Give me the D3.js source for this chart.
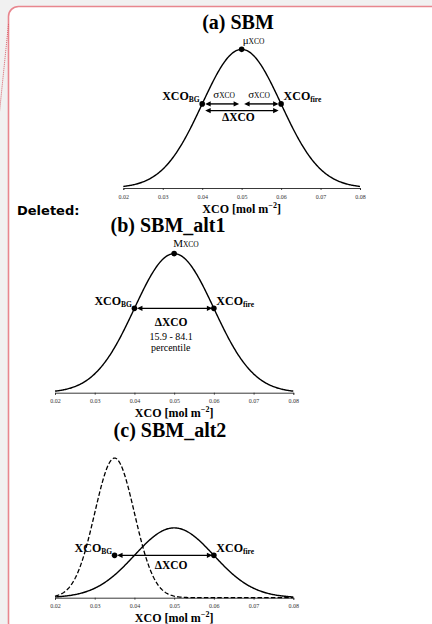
<!DOCTYPE html>
<html>
<head>
<meta charset="utf-8">
<script src="https://cdn.jsdelivr.net/npm/d3@7"></script>
<style>
  html, body { margin: 0; padding: 0; background: #f1f1f1; overflow: hidden; }
  svg { display: block; }
  text { font-family: "Liberation Serif", "Times New Roman", serif; }
</style>
</head>
<body>
<svg id="chart" width="432" height="624"></svg>
<script>
// ---- data ----
const xTicks = [0.02, 0.03, 0.04, 0.05, 0.06, 0.07, 0.08];
const xDomain = [0.02, 0.08];
const panelTitles = ["(a) SBM", "(b) SBM_alt1", "(c) SBM_alt2"];
// fire-affected XCO distribution (solid curve)
const fireMean = [0.05, 0.05, 0.05];
const fireSd = [0.01, 0.01, 0.01];
// background XCO distribution (dashed curve, panel c only)
const bgMean = [null, null, 0.035];
const bgSd = [null, null, 0.005];
// marked values
const bgValue = [0.04, 0.04, 0.035];
const fireValue = [0.06, 0.06, 0.06];
const centreValue = [0.05, 0.05, null];
const densityTop = [40, 40, 80];

// ---- layout ----
const panels = [
  { x0: 123.3, x1: 360.0, axisY: 188.0, h: 139.0, titleX: 238, titleY: 29 },
  { x0: 55.0,  x1: 293.3, axisY: 392.7, h: 139.4, titleX: 168, titleY: 232 },
  { x0: 55.0,  x1: 293.3, axisY: 597.7, h: 140.0, titleX: 170, titleY: 437 }
];

const svg = d3.select("#chart");

// comment balloon frame
svg.append("rect")
  .attr("x", 8.5).attr("y", 6.5).attr("width", 520).attr("height", 626).attr("rx", 10)
  .attr("fill", "#ffffff").attr("stroke", "#e8868e").attr("stroke-width", 1.6);
svg.append("line")
  .attr("x1", 8.5).attr("y1", 24).attr("x2", -0.5).attr("y2", 112)
  .attr("stroke", "#d9606a").attr("stroke-width", 1).attr("stroke-dasharray", "1,1");

svg.append("text")
  .attr("x", 17).attr("y", 215)
  .style("font-family", "'DejaVu Sans', Verdana, sans-serif")
  .style("font-weight", "bold").style("font-size", "13px")
  .text("Deleted:");

const pdf = (x, m, s) => Math.exp(-0.5 * ((x - m) / s) ** 2) / (s * Math.sqrt(2 * Math.PI));
const grid = d3.range(xDomain[0], xDomain[1] + 1e-9, 0.0002);

function head(g, x, y, dir) {
  g.append("path")
    .attr("d", `M${x},${y}L${x - dir * 5.5},${y - 2.6}L${x - dir * 5.5},${y + 2.6}Z`)
    .attr("fill", "#000");
}
function dblArrow(g, xa, xb, y) {
  g.append("line").attr("x1", xa + 2).attr("x2", xb - 2).attr("y1", y).attr("y2", y)
    .attr("stroke", "#000").attr("stroke-width", 1.4);
  head(g, xa, y, -1);
  head(g, xb, y, 1);
}
function subLabel(g, x, y, main, sub, anchor, bold, mainSize, subSize, dy) {
  const t = g.append("text").attr("x", x).attr("y", y).attr("text-anchor", anchor)
    .style("font-weight", bold ? "bold" : "normal").style("font-size", mainSize + "px");
  t.append("tspan").text(main);
  t.append("tspan").attr("dy", dy).style("font-size", subSize + "px").text(sub);
  return t;
}

panels.forEach((p, i) => {
  const g = svg.append("g");
  const x = d3.scaleLinear().domain(xDomain).range([p.x0, p.x1]);
  const y = d3.scaleLinear().domain([0, densityTop[i]]).range([p.axisY, p.axisY - p.h]);

  // title
  g.append("text").attr("x", p.titleX).attr("y", p.titleY).attr("text-anchor", "middle")
    .style("font-weight", "bold").style("font-size", "20px").text(panelTitles[i]);

  // axis
  const ax = g.append("g").attr("transform", `translate(0,${p.axisY})`)
    .call(d3.axisBottom(x).tickValues(xTicks).tickFormat(d3.format(".2f"))
      .tickSize(2).tickSizeOuter(2).tickPadding(4.5));
  ax.select(".domain").attr("stroke", "#222").attr("stroke-width", 0.9);
  ax.selectAll(".tick line").attr("stroke", "#222").attr("stroke-width", 0.8);
  ax.selectAll(".tick text").style("font-family", "'Liberation Serif', serif")
    .style("font-size", "6px").attr("fill", "#333");

  const at = g.append("text").attr("x", (p.x0 + p.x1) / 2).attr("y", p.axisY + 24.5)
    .attr("text-anchor", "middle").style("font-weight", "bold").style("font-size", "12px");
  at.append("tspan").text("XCO [mol m");
  at.append("tspan").attr("dy", -5).style("font-size", "8px").text("\u22122");
  at.append("tspan").attr("dy", 5).text("]");

  const line = d3.line().x(d => x(d[0])).y(d => y(d[1]));

  // background distribution (dashed)
  if (bgMean[i] !== null) {
    g.append("path")
      .datum(grid.map(v => [v, pdf(v, bgMean[i], bgSd[i])]))
      .attr("d", line).attr("fill", "none").attr("stroke", "#000")
      .attr("stroke-width", 1.3).attr("stroke-dasharray", "4.5,2.2");
  }
  // fire-affected distribution (solid)
  g.append("path")
    .datum(grid.map(v => [v, pdf(v, fireMean[i], fireSd[i])]))
    .attr("d", line).attr("fill", "none").attr("stroke", "#000").attr("stroke-width", 1.4);

  const arrowY = y(pdf(fireValue[i], fireMean[i], fireSd[i]));
  const xb = x(bgValue[i]), xf = x(fireValue[i]);

  // arrows
  if (i === 0) {
    const xc = x(centreValue[i]);
    dblArrow(g, xb + 3, xc - 2.5, arrowY);
    dblArrow(g, xc + 2.5, xf - 2.5, arrowY);
    dblArrow(g, xb + 3, xf - 2.5, arrowY + 6.7);
  } else {
    dblArrow(g, xb + 2.5, xf - 1.5, arrowY);
  }

  // marked points
  const pts = [[bgValue[i], arrowY], [fireValue[i], arrowY]];
  if (centreValue[i] !== null) {
    pts.push([centreValue[i], y(pdf(centreValue[i], fireMean[i], fireSd[i]))]);
  }
  g.selectAll("circle.pt").data(pts).enter().append("circle").attr("class", "pt")
    .attr("cx", d => x(d[0])).attr("cy", d => d[1]).attr("r", 2.8).attr("fill", "#000");

  // point labels
  subLabel(g, xb - 2.5, arrowY - 3.5, "XCO", "BG", "end", true, 12, 7.5, 2);
  subLabel(g, xf + 2.5, arrowY - 3.5, "XCO", "fire", "start", true, 12, 7.5, 2);

  if (i === 0) {
    const xc = x(centreValue[i]);
    const yc = y(pdf(centreValue[i], fireMean[i], fireSd[i]));
    subLabel(g, xc + 1, yc - 5, "\u03bc", "XCO", "start", false, 11, 7.5, 0);
    subLabel(g, xb + 11, arrowY - 5.5, "\u03c3", "XCO", "start", false, 11, 7.5, 0);
    subLabel(g, xc + 6.5, arrowY - 5.5, "\u03c3", "XCO", "start", false, 11, 7.5, 0);
    g.append("text").attr("x", xc - 3.3).attr("y", arrowY + 17).attr("text-anchor", "middle")
      .style("font-weight", "bold").style("font-size", "11.5px").text("\u0394XCO");
  } else if (i === 1) {
    const xc = x(centreValue[i]);
    const yc = y(pdf(centreValue[i], fireMean[i], fireSd[i]));
    subLabel(g, xc - 1, yc - 6.5, "M", "XCO", "start", false, 11, 7.5, 0);
    g.append("text").attr("x", xc - 3).attr("y", arrowY + 17.3).attr("text-anchor", "middle")
      .style("font-weight", "bold").style("font-size", "11.5px").text("\u0394XCO");
    g.append("text").attr("x", xc - 3).attr("y", arrowY + 31.5).attr("text-anchor", "middle")
      .style("font-size", "10px").text("15.9 - 84.1");
    g.append("text").attr("x", xc - 3.5).attr("y", arrowY + 42.5).attr("text-anchor", "middle")
      .style("font-size", "10px").text("percentile");
  } else {
    g.append("text").attr("x", x(0.05) - 3).attr("y", arrowY + 13.6).attr("text-anchor", "middle")
      .style("font-weight", "bold").style("font-size", "11.5px").text("\u0394XCO");
  }
});
</script>
</body>
</html>
